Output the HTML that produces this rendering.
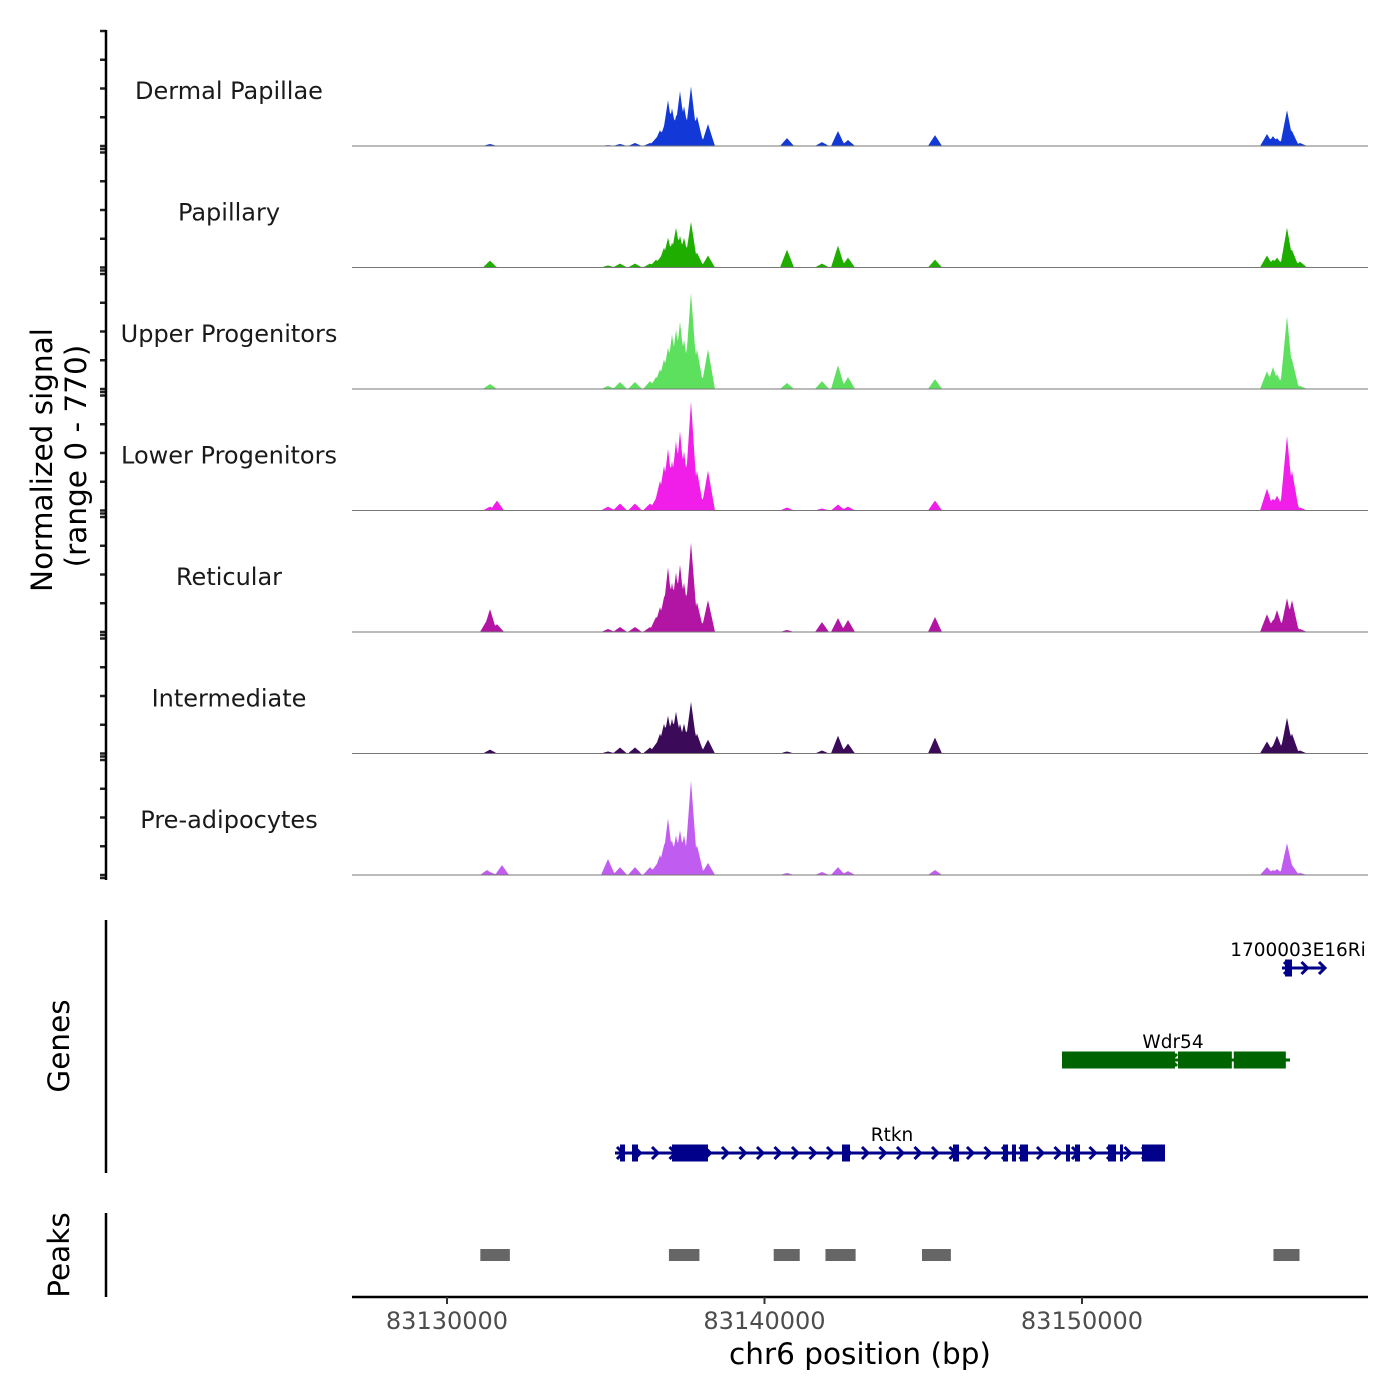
<!DOCTYPE html>
<html><head><meta charset="utf-8"><style>
html,body{margin:0;padding:0;background:#fff}
svg{display:block;font-family:"DejaVu Sans","Liberation Sans",sans-serif}
</style></head><body>
<svg id="chart" width="1400" height="1400" viewBox="0 0 1400 1400">
<g id="tracks"></g>
<g id="leftaxes"></g>
<g id="genes"></g>
<g id="peaks"></g>
<g id="xaxis"></g>
<text transform="translate(52,460) rotate(-90)" text-anchor="middle" font-size="29.5" fill="#000">Normalized signal</text>
<text transform="translate(86,456) rotate(-90)" text-anchor="middle" font-size="29.5" fill="#000">(range 0 - 770)</text>
<text transform="translate(69,1046) rotate(-90)" text-anchor="middle" font-size="29.5" fill="#000">Genes</text>
<text transform="translate(69,1255) rotate(-90)" text-anchor="middle" font-size="29.5" fill="#000">Peaks</text>
<text x="860" y="1364" text-anchor="middle" font-size="29.5" fill="#000">chr6 position (bp)</text>
</svg>
<script>
const NS='http://www.w3.org/2000/svg';
const trackNames=['Dermal Papillae','Papillary','Upper Progenitors','Lower Progenitors','Reticular','Intermediate','Pre-adipocytes'];
const trackColors=['#1338d8','#1fae00','#5de05d','#f01ee8','#b214a4','#3b0a59','#c05cf0'];
const positions=[83131260,83131354,83131575,83131732,83135071,83135449,83135921,83136394,83136583,83136709,83136835,83136961,83137087,83137213,83137339,83137465,83137685,83137874,83138220,83140709,83141811,83142315,83142630,83145370,83155827,83156016,83156142,83156457,83156614,83156866];
const valsDermal=[0,13,0,0,6,13,19,19,50,101,126,290,239,189,347,252,378,189,139,50,25,95,38,69,76,63,50,227,95,19];
const valsPapillary=[0,44,0,0,13,25,25,25,50,63,126,189,158,252,202,189,290,95,76,113,25,139,63,50,76,50,63,252,113,38];
const valsUpper=[0,32,0,0,19,44,44,50,76,126,189,265,347,378,428,315,611,252,252,38,50,151,76,63,113,139,95,460,189,19];
const valsLower=[0,25,63,0,25,44,44,44,76,189,284,391,315,441,504,378,693,252,252,19,13,38,25,63,139,76,95,473,252,19];
const valsReticular=[76,145,50,0,19,32,32,32,95,158,221,410,315,378,428,315,567,189,202,13,63,88,76,95,113,76,139,214,202,19];
const valsIntermediate=[0,25,0,0,13,38,38,38,63,126,189,239,221,265,189,189,328,126,88,13,19,113,63,101,76,50,113,227,126,19];
const valsPre=[32,19,0,63,101,50,50,50,63,126,189,359,221,252,284,252,599,189,76,13,19,50,25,32,50,32,38,202,63,13];
const seriesValues=[valsDermal,valsPapillary,valsUpper,valsLower,valsReticular,valsIntermediate,valsPre];
const xTicks=[83130000,83140000,83150000];
const peakStarts=[83131050,83136990,83140290,83141920,83144960,83156030];
const peakEnds=[83131980,83137950,83141110,83142870,83145870,83156850];
const rtknExonStarts=[83135449,83135827,83137087,83142441,83145937,83147512,83147795,83148047,83149496,83149779,83150819,83151197,83151890];
const rtknExonEnds=[83135606,83136016,83138220,83142693,83146126,83147669,83147921,83148299,83149622,83149937,83151071,83151291,83152614];
const wdrExonStarts=[83149370,83153024,83153150,83153240,83154780];
const wdrExonEnds=[83152929,83153150,83153250,83154720,83156420];

const X0=352,X1=1368,BP0=83127008,PXPERBP=31.75/1000;
const xs=bp=>X0+(bp-BP0)*PXPERBP;
const TH=121.5,B0=146,YMAX=770;
const ys=(v,b)=>b-v/YMAX*TH;
function el(tag,attrs,parent){const e=document.createElementNS(NS,tag);for(const k in attrs)e.setAttribute(k,attrs[k]);parent.appendChild(e);return e;}
const tracks=document.getElementById('tracks');
const left=document.getElementById('leftaxes');
seriesValues.forEach((vals,i)=>{
  const b=B0+i*TH;
  const g=el('g',{},tracks);
  
  
  let d='M'+X0+','+b;
  for(let x=X0;x<=X1;x+=1){
    let v=0;
    positions.forEach((p,j)=>{const dx=Math.abs(x-xs(p));const hw=7;if(dx<hw){v=Math.max(v,vals[j]*(1-dx/hw));}});
    d+=' L'+x+','+ys(v,b).toFixed(1);
  }
  d+=' L'+X1+','+b+' Z';
  const a=el('path',{d:d,fill:trackColors[i]},g);
  
  
  const ln=el('line',{x1:X0,x2:X1,y1:b,y2:b,stroke:'#777','stroke-width':1},g);
  
  
  const t=el('text',{x:229,y:b-47,'text-anchor':'middle','font-size':24,fill:'#1a1a1a'},g);
  t.textContent=trackNames[i];
  
  
  for(let k=0;k<5;k++){
    const ty=b-k*28.75;
    const tk=el('line',{x1:100,x2:106,y1:ty,y2:ty,stroke:'#222','stroke-width':2.5},left);
    
    
  }
  const tk2=el('line',{x1:100,x2:106,y1:b+3,y2:b+3,stroke:'#222','stroke-width':2.5},left);
  
  
});
const axl=el('line',{x1:106,x2:106,y1:30,y2:880,stroke:'#000','stroke-width':2.5},left);


const gl=el('line',{x1:106,x2:106,y1:920,y2:1173,stroke:'#000','stroke-width':2.5},left);


const pl=el('line',{x1:106,x2:106,y1:1213,y2:1297,stroke:'#000','stroke-width':2.5},left);



const genes=document.getElementById('genes');
function gene(name,start,end,y,color,exS,exE,label,lx,dir){
  const g=el('g',{},genes);
  
  
  el('line',{x1:xs(start),x2:xs(end),y1:y,y2:y,stroke:color,'stroke-width':3},g);
  for(let x=xs(start)+6;x<xs(end)-2;x+=17.5){
    const s=dir>0?'M'+(x-4)+','+(y-6)+' L'+(x+2)+','+y+' L'+(x-4)+','+(y+6):'M'+(x+4)+','+(y-6)+' L'+(x-2)+','+y+' L'+(x+4)+','+(y+6);
    el('path',{d:s,stroke:color,'stroke-width':3,fill:'none'},g);
  }
  exS.forEach((s,j)=>{el('rect',{x:xs(s),y:y-8.5,width:Math.max(2,xs(exE[j])-xs(s)),height:17,fill:color},g);});
  const t=el('text',{x:lx,y:y-12,'text-anchor':'middle','font-size':18.5,fill:'#000'},g);
  t.textContent=label;
  
  
}
gene('Rtkn',83135291,83152614,1153,'#00008b',rtknExonStarts,rtknExonEnds,'Rtkn',892,1);
gene('Wdr54',83149370,83156551,1060,'#006400',wdrExonStarts,wdrExonEnds,'Wdr54',1173,-1);
gene('1700003E16Rik',83156299,83157654,968,'#00008b',[83156394],[83156614],'1700003E16Ri',1298,1);

const peaks=document.getElementById('peaks');
peakStarts.forEach((s,j)=>{
  const r=el('rect',{x:xs(s),y:1249,width:xs(peakEnds[j])-xs(s),height:12,fill:'#666'},peaks);
  
  
});

const xa=document.getElementById('xaxis');
const xl=el('line',{x1:X0,x2:X1,y1:1297,y2:1297,stroke:'#000','stroke-width':2.5},xa);


xTicks.forEach(v=>{
  const tk=el('line',{x1:xs(v),x2:xs(v),y1:1297,y2:1304,stroke:'#333','stroke-width':2},xa);
  
  
  const t=el('text',{x:xs(v),y:1329,'text-anchor':'middle','font-size':24,fill:'#4d4d4d'},xa);
  t.textContent=v;
  
  
});
</script>
</body></html>
